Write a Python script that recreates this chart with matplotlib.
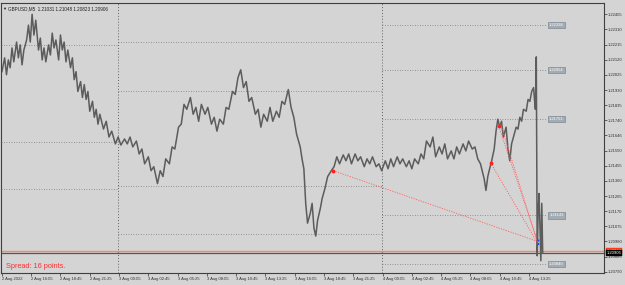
import matplotlib.pyplot as plt

plt.rcParams['font.family'] = ['Liberation Sans', 'DejaVu Sans']

# M5 closes (bar index counted from 2 Aug 13:25)
bars = [0, 3, 5, 7, 9, 11, 13, 16, 18, 20, 22, 24, 27, 29, 31, 33, 35, 37, 40, 42,
        44, 46, 48, 51, 53, 55, 57, 59, 62, 64, 66, 68, 70, 72, 75, 77, 79, 81, 83, 86,
        88, 90, 92, 94, 96, 99, 101, 103, 105, 107, 111, 114, 117, 120, 124, 127, 130, 134, 137, 140,
        143, 147, 150, 153, 156, 160, 163, 166, 170, 173, 176, 179, 183, 186, 189, 193, 196, 199, 202, 206,
        209, 212, 215, 218, 222, 225, 229, 232, 235, 238, 242, 245, 248, 252, 255, 258, 261, 264, 267, 270,
        273, 277, 280, 283, 286, 290, 293, 296, 300, 303, 306, 309, 313, 316, 319, 322, 326, 328, 330, 332,
        334, 337, 339, 341, 343, 345, 348, 350, 353, 356, 360, 363, 366, 369, 373, 376, 379, 382, 386, 389,
        392, 396, 399, 402, 405, 409, 412, 415, 419, 422, 425, 428, 432, 435, 438, 442, 445, 448, 451, 455,
        458, 461, 464, 468, 471, 474, 478, 481, 484, 487, 491, 494, 497, 500, 504, 507, 510, 514, 517, 520,
        523, 527, 529, 531, 533, 535, 538, 540, 542, 544, 546, 548, 551, 553, 555, 557, 559, 562, 564, 566,
        568, 570, 573, 575, 577, 579, 581, 582, 583, 584, 585, 586, 587, 588, 589, 590, 591]
close = [1.22045, 1.22132, 1.22026, 1.22119, 1.22070, 1.22194, 1.22107, 1.22231, 1.22132, 1.22213,
         1.22088, 1.22181, 1.22244, 1.22337, 1.22231, 1.22405, 1.22275, 1.22368, 1.22181, 1.22256,
         1.22119, 1.22194, 1.22107, 1.22213, 1.22150, 1.22287, 1.22194, 1.22244, 1.22119, 1.22275,
         1.22181, 1.22231, 1.22107, 1.22181, 1.22070, 1.22132, 1.21995, 1.22045, 1.21921, 1.21983,
         1.21883, 1.21964, 1.21871, 1.21921, 1.21797, 1.21859, 1.21759, 1.21809, 1.21716, 1.21778,
         1.21685, 1.21734, 1.21635, 1.21672, 1.21592, 1.21635, 1.21585, 1.21623, 1.21592, 1.21635,
         1.21573, 1.21610, 1.21529, 1.21560, 1.21467, 1.21511, 1.21424, 1.21449, 1.21343, 1.21424,
         1.21387, 1.21498, 1.21467, 1.21573, 1.21560, 1.21697, 1.21716, 1.21840, 1.21809, 1.21883,
         1.21778, 1.21821, 1.21734, 1.21840, 1.21778, 1.21821, 1.21716, 1.21759, 1.21672, 1.21747,
         1.21716, 1.21821, 1.21809, 1.21921, 1.21902, 1.22008, 1.22057, 1.21945, 1.21983, 1.21859,
         1.21883, 1.21778, 1.21809, 1.21697, 1.21778, 1.21734, 1.21821, 1.21734, 1.21797, 1.21759,
         1.21859, 1.21840, 1.21933, 1.21821, 1.21759, 1.21654, 1.21573, 1.21498, 1.21436, 1.21219,
         1.21095, 1.21157, 1.21219, 1.21064, 1.21014, 1.21113, 1.21188, 1.21250, 1.21312, 1.21387,
         1.21424, 1.21449, 1.21511, 1.21467, 1.21523, 1.21486, 1.21529, 1.21467, 1.21529, 1.21486,
         1.21511, 1.21449, 1.21498, 1.21467, 1.21511, 1.21449, 1.21467, 1.21424, 1.21486, 1.21436,
         1.21498, 1.21449, 1.21511, 1.21467, 1.21498, 1.21449, 1.21486, 1.21436, 1.21498, 1.21467,
         1.21529, 1.21498, 1.21610, 1.21573, 1.21635, 1.21511, 1.21573, 1.21529, 1.21592, 1.21498,
         1.21548, 1.21498, 1.21573, 1.21529, 1.21592, 1.21548, 1.21610, 1.21560, 1.21573, 1.21498,
         1.21467, 1.21374, 1.21300, 1.21387, 1.21436, 1.21480, 1.21560, 1.21672, 1.21747, 1.21697,
         1.21734, 1.21635, 1.21697, 1.21560, 1.21486, 1.21592, 1.21635, 1.21697, 1.21685, 1.21759,
         1.21734, 1.21809, 1.21797, 1.21871, 1.21859, 1.21921, 1.21945, 1.21871, 1.21809, 1.22138,
         1.20890, 1.21157, 1.21281, 1.21064, 1.20859, 1.21219, 1.20906]

tick_bars = [0, 32, 64, 96, 128, 160, 192, 224, 256, 288, 320, 352, 384, 416, 448, 480, 512, 544, 576]
tick_labels = ['2 Aug 2022', '2 Aug 16:05', '2 Aug 18:45', '2 Aug 21:25', '3 Aug 00:05', '3 Aug 02:45',
               '3 Aug 05:25', '3 Aug 08:05', '3 Aug 10:45', '3 Aug 13:25', '3 Aug 16:05', '3 Aug 18:45',
               '3 Aug 21:25', '4 Aug 00:05', '4 Aug 02:45', '4 Aug 05:25', '4 Aug 08:05', '4 Aug 10:45',
               '4 Aug 13:25']
price_ticks = [1.22405, 1.22310, 1.22215, 1.22120, 1.22025, 1.21930, 1.21835, 1.21740, 1.21646,
               1.21550, 1.21455, 1.21360, 1.21265, 1.21170, 1.21075, 1.20980, 1.20885, 1.20790]

day_breaks = [127, 415]
left_levels = [1.22213, 1.21604, 1.21312]
mid_levels = [1.22231, 1.21927, 1.21325, 1.21026]
right_levels = [1.22338, 1.22054, 1.21751, 1.21143, 1.20840]

bid = 1.20906
ask = 1.20922

# red dotted trend lines: (bar0, price0, bar1, price1)
trend_lines = [(362, 1.21424, 584, 1.20983),
               (534, 1.21474, 584, 1.20983),
               (543, 1.21703, 584, 1.21002),
               (545, 1.21716, 586, 1.20964)]
anchor_bars = [362, 534, 543]
anchor_prices = [1.21424, 1.21474, 1.21703]

bg = '#d4d4d4'
fig = plt.figure(figsize=(6.25, 2.85), dpi=100, facecolor=bg)
ax = fig.add_axes([1/625, 12/285, 603/625, 270/285], facecolor=bg)

dot = (0, (1, 2))
for lv in left_levels:
    ax.plot([-1, day_breaks[0]], [lv, lv], color='#7c7c7c', lw=0.6, ls=dot)
for lv in mid_levels:
    ax.plot([day_breaks[0], day_breaks[1]], [lv, lv], color='#7c7c7c', lw=0.6, ls=dot)
for lv in right_levels:
    ax.plot([day_breaks[1], 595], [lv, lv], color='#7c7c7c', lw=0.6, ls=dot)
    ax.text(606, lv, f'{lv:.5f}', fontsize=3, color='white', ha='center', va='center',
            bbox=dict(boxstyle='square,pad=0.25', fc='#a3abb3', ec='#6e7a86', lw=0.4))
for d in day_breaks:
    ax.axvline(d, color='#606060', lw=0.7, ls=dot)

ax.axhline(ask, color='#ff8a5c', lw=1.0)
ax.axhline(bid, color='#555555', lw=0.9)

ax.plot(bars, close, color='#5c5c5c', lw=1.1)

for b0, p0, b1, p1 in trend_lines:
    ax.plot([b0, b1], [p0, p1], color='#ff6060', lw=0.6, ls=(0, (1.5, 1.5)))
ax.scatter(anchor_bars, anchor_prices, s=3, color='#ff2020', zorder=5)
ax.plot([586, 586], [1.20995, 1.20955], color='#2040ff', lw=1.0, ls=(0, (1.5, 1)))

ax.set_xlim(-1, 658)
ax.set_ylim(1.20782, 1.22476)

ax.set_xticks(tick_bars)
ax.set_xticklabels(tick_labels, ha='left')
ax.yaxis.tick_right()
ax.set_yticks(price_ticks)
ax.set_yticklabels([f'{p:.5f}' for p in price_ticks])
ax.tick_params(axis='both', labelsize=3, length=2, width=0.5, colors='#303030', pad=1)
for s in ax.spines.values():
    s.set_color('#404040')
    s.set_linewidth(0.8)

for val, fc in [(ask, '#ff3a10'), (bid, '#000000')]:
    ax.annotate(f'{val:.5f}', xy=(1.0, val), xycoords=('axes fraction', 'data'),
                xytext=(2, 0), textcoords='offset points', fontsize=3, color='white',
                va='center', ha='left',
                bbox=dict(boxstyle='square,pad=0.2', fc=fc, ec=fc, lw=0.3))

fig.text(2/625, 1 - 9/285, '\u25bc', fontsize=3, color='#202020', va='center')
fig.text(8/625, 1 - 9/285, 'GBPUSD,M5  1.21031 1.21048 1.20823 1.20906', fontsize=3.3,
         color='#202020', va='center')
fig.text(6/625, 1 - 266/285, 'Spread: 16 points.', fontsize=5.3, color='#ff3030', va='center')

fig.savefig('out.png', dpi=100, facecolor=bg)
